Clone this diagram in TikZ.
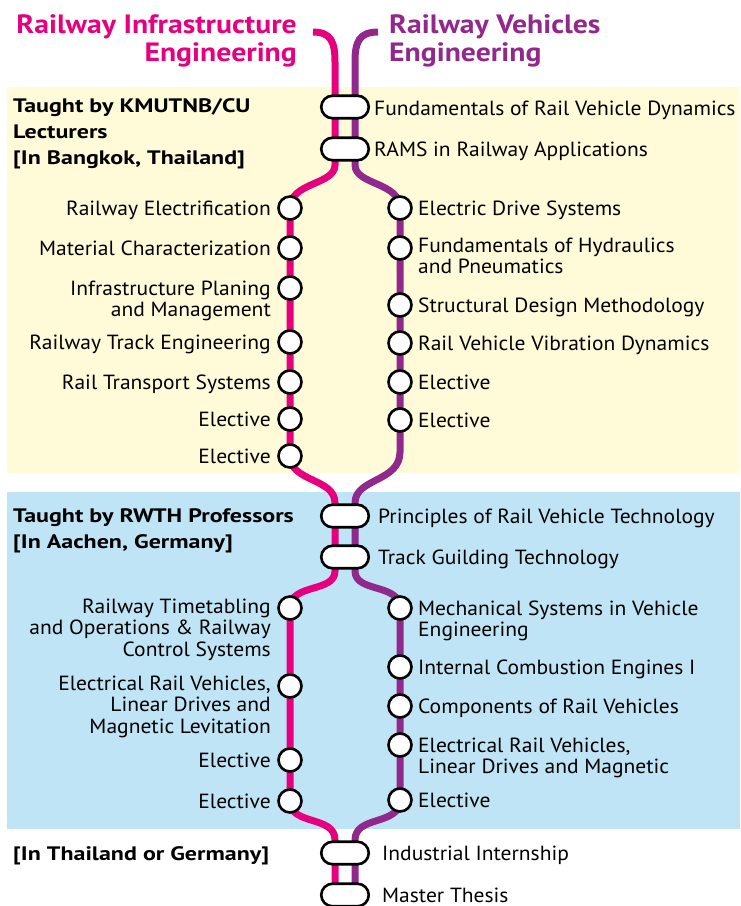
\documentclass[tikz,border=0pt]{standalone}
\usepackage{fontspec}
\setmainfont{PT Sans}[FakeStretch=1.05]
\newfontfamily\headfont{PT Sans Bold}[FakeStretch=1.12]
\newfontfamily\sectfont{PT Sans Bold}[FakeStretch=1.23]
\usetikzlibrary{calc,shapes.misc}
\definecolor{rpink}{RGB}{230,0,126}
\definecolor{rpurple}{RGB}{145,40,140}
\definecolor{ryellow}{RGB}{255,250,215}
\definecolor{rblue}{RGB}{190,228,245}
\newcommand\rightlines[1]{\begin{tabular}[t]{@{}r@{}}#1\end{tabular}}
\newcommand\leftlines[1]{\begin{tabular}[t]{@{}l@{}}#1\end{tabular}}
\pgfdeclarelayer{bg}
\pgfdeclarelayer{tracks}
\pgfsetlayers{bg,tracks,main}
\tikzset{
  stn/.style={circle, draw=black, fill=white, line width=2.6pt, minimum size=23pt, inner sep=0pt},
  capsule/.style={rounded rectangle, draw=black, fill=white, line width=2.6pt, minimum width=47.5pt, minimum height=22.5pt, inner sep=0pt},
  lbl/.style={inner sep=0pt, font=\fontsize{20.5}{21.5}\selectfont},
  llbl/.style={lbl, anchor=base east},
  rlbl/.style={lbl, anchor=base west},
  sect/.style={inner sep=0pt, anchor=base west, font=\sectfont\fontsize{19.5}{26}\selectfont},
  head/.style={inner sep=0pt, font=\headfont\fontsize{26.5}{28.5}\selectfont},
  pinktrack/.style={draw=rpink, line width=7pt},
  purpletrack/.style={draw=rpurple, line width=7pt},
}
\begin{document}
\begin{tikzpicture}[x=1pt,y=-1pt]
\useasboundingbox (0,0) rectangle (740,906);
\begin{pgfonlayer}{bg}
  \fill[white] (0,0) rectangle (740,906);
  \fill[ryellow] (7,87) rectangle (740,473);
  \fill[rblue] (7,492) rectangle (740,829);
\end{pgfonlayer}

% headings
\node[head, anchor=base east] (hInfra) at (297,33) {\rightlines{\color{rpink}Railway Infrastructure\\\color{rpink}Engineering}};
\node[head, anchor=base west] (hVeh) at (389,33) {\leftlines{\color{rpurple}Railway Vehicles\\\color{rpurple}Engineering}};

% section labels
\node[sect] (s1) at (13,112) {\leftlines{Taught by KMUTNB/CU\\Lecturers\\{[In Bangkok, Thailand]}}};
\node[sect] (s2) at (13,522) {\leftlines{Taught by RWTH Professors\\{[In Aachen, Germany]}}};
\node[sect] (s3) at (13,860) {[In Thailand or Germany]};

% capsules
\node[capsule] (c1) at (345,107) {};
\node[capsule] (c2) at (345,149) {};
\node[capsule] (c3) at (345,516) {};
\node[capsule] (c4) at (345,557) {};
\node[capsule] (c5) at (345,853) {};
\node[capsule] (c6) at (345,895) {};
\node[rlbl] (tc1) at (374,115) {Fundamentals of Rail Vehicle Dynamics};
\node[rlbl] (tc2) at (374,156) {RAMS in Railway Applications};
\node[rlbl] (tc3) at (378,523) {Principles of Rail Vehicle Technology};
\node[rlbl] (tc4) at (378,564) {Track Guilding Technology};
\node[rlbl] (tc5) at (382,860) {Industrial Internship};
\node[rlbl] (tc6) at (382,902) {Master Thesis};

% left stations
\foreach \n/\y in {1/208,2/248,3/288,4/342,5/382,6/419,7/456,8/608,9/686,10/760,11/801}
  \node[stn] (L\n) at (290,\y) {};
% right stations
\foreach \n/\y in {1/208,2/248,3/305,4/343,5/382,6/420,7/608,8/667,9/706,10/745,11/800}
  \node[stn] (R\n) at (400,\y) {};

% left labels
\node[llbl] (tL1) at (271,215) {Railway Electrification};
\node[llbl] (tL2) at (271,255) {Material Characterization};
\node[llbl] (tL3) at (271,295) {\rightlines{Infrastructure Planing\\and Management}};
\node[llbl] (tL4) at (271,349) {Railway Track Engineering};
\node[llbl] (tL5) at (271,389) {Rail Transport Systems};
\node[llbl] (tL6) at (271,426) {Elective};
\node[llbl] (tL7) at (271,463) {Elective};
\node[llbl] (tL8) at (271,613) {\rightlines{Railway Timetabling\\and Operations \& Railway\\Control Systems}};
\node[llbl] (tL9) at (271,690) {\rightlines{Electrical Rail Vehicles,\\Linear Drives and\\Magnetic Levitation}};
\node[llbl] (tL10) at (271,767) {Elective};
\node[llbl] (tL11) at (271,808) {Elective};

% right labels
\node[rlbl] (tR1) at (418,215) {Electric Drive Systems};
\node[rlbl] (tR2) at (418,252) {\leftlines{Fundamentals of Hydraulics\\and Pneumatics}};
\node[rlbl] (tR3) at (418,312) {Structural Design Methodology};
\node[rlbl] (tR4) at (418,350) {Rail Vehicle Vibration Dynamics};
\node[rlbl] (tR5) at (418,389) {Elective};
\node[rlbl] (tR6) at (418,427) {Elective};
\node[rlbl] (tR7) at (418,615) {\leftlines{Mechanical Systems in Vehicle\\Engineering}};
\node[rlbl] (tR8) at (418,674) {Internal Combustion Engines I};
\node[rlbl] (tR9) at (418,713) {Components of Rail Vehicles};
\node[rlbl] (tR10) at (418,752) {\leftlines{Electrical Rail Vehicles,\\Linear Drives and Magnetic}};
\node[rlbl] (tR11) at (418,807) {Elective};

\coordinate (pTop) at (313,32);
\coordinate (qTop) at (378,32);
\coordinate (pBot) at (335,906);
\coordinate (qBot) at (355,906);

\begin{pgfonlayer}{tracks}
  \draw[pinktrack] (pTop) .. controls (331,32) and (335,42) .. ($(c1.center)+(-10,-45)$)
     -- ($(c2.center)+(-10,16)$) .. controls ($(c2.center)+(-10,36)$) and (290,182) .. (L1.center)
     -- (L7.center) .. controls (290,482) and ($(c3.center)+(-10,-38)$) .. ($(c3.center)+(-10,-13)$)
     -- ($(c4.center)+(-10,14)$) .. controls ($(c4.center)+(-10,36)$) and (290,583) .. (L8.center)
     -- (L11.center) .. controls (290,826) and ($(c5.center)+(-10,-38)$) .. ($(c5.center)+(-10,-13)$)
     -- (pBot);
  \draw[purpletrack] (qTop) .. controls (359,32) and (355,42) .. ($(c1.center)+(10,-45)$)
     -- ($(c2.center)+(10,16)$) .. controls ($(c2.center)+(10,36)$) and (400,182) .. (R1.center)
     -- (R6.center) -- (400,452) .. controls (400,482) and ($(c3.center)+(10,-38)$) .. ($(c3.center)+(10,-13)$)
     -- ($(c4.center)+(10,14)$) .. controls ($(c4.center)+(10,36)$) and (400,583) .. (R7.center)
     -- (R11.center) .. controls (400,826) and ($(c5.center)+(10,-38)$) .. ($(c5.center)+(10,-13)$)
     -- (qBot);
\end{pgfonlayer}
\end{tikzpicture}
\end{document}
